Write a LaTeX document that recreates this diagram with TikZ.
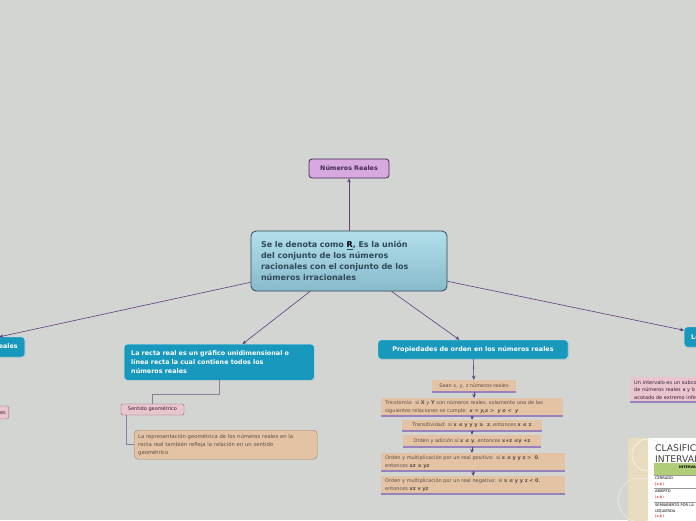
\documentclass[tikz,border=0pt]{standalone}
\usepackage{fontspec}
\setmainfont{DejaVu Sans}
\usetikzlibrary{positioning,arrows.meta,calc,shadows}
\definecolor{mmBack}{RGB}{211,213,210}
\definecolor{mmTeal}{RGB}{23,152,188}
\definecolor{mmLilac}{RGB}{214,170,224}
\definecolor{mmPlum}{RGB}{70,40,80}
\definecolor{mmSkyTop}{RGB}{178,223,235}
\definecolor{mmSkyBot}{RGB}{136,186,203}
\definecolor{mmSlate}{RGB}{47,72,88}
\definecolor{mmPink}{RGB}{233,197,205}
\definecolor{mmPinkLine}{RGB}{150,100,115}
\definecolor{mmTan}{RGB}{228,195,165}
\definecolor{mmLav}{RGB}{150,130,190}
\definecolor{mmArrow}{RGB}{95,60,125}
\definecolor{mmLink}{RGB}{140,125,150}
\definecolor{mmBrown}{RGB}{95,78,65}
\definecolor{mmPane}{RGB}{232,220,190}
\definecolor{mmGreen}{RGB}{176,206,120}
\tikzset{
    base/.style={align=left, inner ysep=0pt},
    root/.style={base, rectangle, rounded corners=5pt, draw=mmSlate, thick,
                 top color=mmSkyTop, bottom color=mmSkyBot, text=mmSlate,
                 font=\fontsize{8}{11}\selectfont\bfseries},
    title/.style={base, rectangle, rounded corners=3pt, draw=mmPlum, thick,
                  fill=mmLilac, text=mmPlum, align=center,
                  font=\fontsize{6.3}{8}\selectfont\bfseries},
    topic/.style={base, rectangle, rounded corners=3pt, draw=white!80!mmTeal,
                  fill=mmTeal, text=white, inner xsep=7pt,
                  font=\fontsize{6.4}{9}\selectfont\bfseries,
                  drop shadow={opacity=0.15, shadow xshift=1pt, shadow yshift=-1pt}},
    tag/.style={base, rectangle, rounded corners=1.5pt, draw=mmPinkLine,
                fill=mmPink, text=mmPlum!80!black, inner xsep=3pt, align=center,
                font=\fontsize{5}{6}\selectfont},
    note/.style={base, rectangle, rounded corners=4pt, draw=mmBrown!70,
                 fill=mmTan, text=mmBrown, inner xsep=4pt,
                 font=\fontsize{5.3}{8}\selectfont},
    item/.style={base, rectangle, fill=mmTan, text=mmBrown, inner xsep=4pt,
                 font=\fontsize{5}{7.5}\selectfont,
                 path picture={\draw[mmLav, line width=1.6pt]
                   (path picture bounding box.south west) --
                   (path picture bounding box.south east);}},
    flow/.style={-{Stealth[length=4pt, width=3.5pt]}, color=mmArrow, semithick},
    link/.style={color=mmLink, semithick}
}

\begin{document}
\begin{tikzpicture}[x=1pt, y=-1pt]
  \useasboundingbox (0,0) rectangle (696,520);
  \fill[mmBack] (0,0) rectangle (696,520);
  \clip (0,0) rectangle (696,520);

  % Root and title
  \node[root, text width=176pt, inner xsep=10pt, minimum height=60pt] (main) at (349,261)
    {Se le denota como \underline{\textcolor{black}{R}}, Es la unión\\
     del conjunto de los números\\
     racionales con el conjunto de los\\
     números irracionales};
  \node[title, minimum width=80pt, minimum height=19pt] (reales) at (349,168.5) {Números Reales};
  \draw[flow] (main) -- (reales);

  % Left branch (cut off)
  \node[topic, anchor=east, minimum height=20pt] (subsets) at (25,347) {Subconjuntos de los números reales};
  \node[tag, anchor=east, minimum height=13pt] (racional) at (9,412.5) {Números racionales};
  \draw[flow] (main) -- (subsets);

  % Real line
  \node[topic, anchor=north west, text width=176pt, minimum height=36pt] (recta) at (124,344)
    {La recta real es un gráfico unidimensional o\\
     línea recta la cual contiene todos los\\
     números reales};
  \node[tag, minimum width=63pt, minimum height=11pt] (sentido) at (152.5,409.5) {Sentido geométrico};
  \node[note, anchor=north west, text width=175pt, minimum height=29pt] (repr) at (134,430)
    {La representación geométrica de los números reales en la\\
     recta real también refleja la relación en un sentido\\
     geométrico};
  \draw[flow] (main) -- (recta);
  \draw[link] (recta.south) -- ++(0,14) -| (sentido.north);
  \draw[link] ($(sentido.south west)+(5,0)$) |- (repr.west);

  % Order properties
  \node[topic, minimum width=190pt, minimum height=19pt, align=center] (orden) at (473,349.5)
    {Propiedades de orden en los números reales};
  \node[item, minimum width=84pt, minimum height=12pt, align=center] (sean) at (474,386)
    {Sean x, y, z números reales};
  \node[item, anchor=north west, text width=174pt, minimum height=18pt] (trico) at (381,398)
    {Tricotomía: si \textbf{X} y \textbf{Y} son números reales, solamente una de las\\
     siguientes relaciones se cumple: \textbf{\textit{x = y,x >\ \ y o <\ \ y}}};
  \node[item, minimum width=140pt, minimum height=11pt, align=center] (trans) at (472,425.5)
    {Transitividad: si \textbf{x ≤ y y y ≥\ \ z}, entonces \textbf{x ≤ z}};
  \node[item, minimum width=138pt, minimum height=12pt, align=center] (suma) at (472,441)
    {Orden y adición si \textbf{x ≤ y}, entonces \textbf{x+z ≤y +z}};
  \node[item, anchor=north west, text width=176pt, minimum height=18pt] (multpos) at (381,453)
    {Orden y multiplicación por un real positivo: si \textbf{x ≤ y y z >\ \ 0},\\
     entonces \textbf{xz ≤ yz}};
  \node[item, anchor=north west, text width=176pt, minimum height=18pt] (multneg) at (381,476)
    {Orden y multiplicación por un real negativo: si \textbf{x ≤ y y z < 0},\\
     entonces \textbf{xz v yz}};
  \draw[flow] (main) -- (orden);
  \draw[flow] (orden) -- (sean);
  \draw[flow] (sean) -- (sean |- trico.north);
  \draw[flow] (trico) -- (trans);
  \draw[flow] (trans) -- (suma);
  \draw[flow] (suma) -- (suma |- multpos.north);
  \draw[flow] (multpos) -- (multpos.south |- multneg.north);

  % Right branch (cut off)
  \node[topic, anchor=west, minimum height=20pt] (interv) at (684,337) {Los intervalos};
  \node[item, anchor=north west, text width=110pt, minimum height=25pt, text=mmPlum!80!black,
        fill=mmPink] (defint) at (630,377)
    {Un intervalo es un subconjunto\\
     de números reales a y b\\
     acotado de extremo inferior};
  \draw[flow] (main) -- (interv);

  % Picture of the interval table
  \begin{scope}
    \fill[white] (628,438) rectangle (700,525);
    \fill[mmPane] (628,438) rectangle (648,525);
    \draw[white!60!mmPane, thick] (648,455) circle (16);
    \draw[white!60!mmPane] (640,500) circle (22);
    \node[anchor=north west, inner sep=0pt, text=black!75, align=left,
          font=\fontsize{9.2}{11}\selectfont] (ctitle) at (655,443)
      {CLASIFICACIÓN DE\\INTERVALOS};
    \fill[mmGreen] (654,463) rectangle (700,475);
    \node[font=\fontsize{3.5}{4}\selectfont\bfseries, inner sep=0pt] (chead) at (690,467) {INTERVALO};
    \draw[black!40, very thin] (654,475) -- (700,475) (654,488) -- (700,488) (654,502) -- (700,502);
    \node[anchor=north west, inner sep=0pt, align=left, font=\fontsize{3.6}{5.5}\selectfont] (crow1) at (655,477)
      {CERRADO\\\textcolor{red!80!black}{[a,b]}};
    \node[anchor=north west, inner sep=0pt, align=left, font=\fontsize{3.6}{5.5}\selectfont] (crow2) at (655,490)
      {ABIERTO\\\textcolor{red!80!black}{(a,b)}};
    \node[anchor=north west, inner sep=0pt, align=left, font=\fontsize{3.6}{5.5}\selectfont] (crow3) at (655,504)
      {SEMIABIERTO POR LA\\IZQUIERDA\\\textcolor{red!80!black}{(a,b]}};
  \end{scope}
\end{tikzpicture}
\end{document}
